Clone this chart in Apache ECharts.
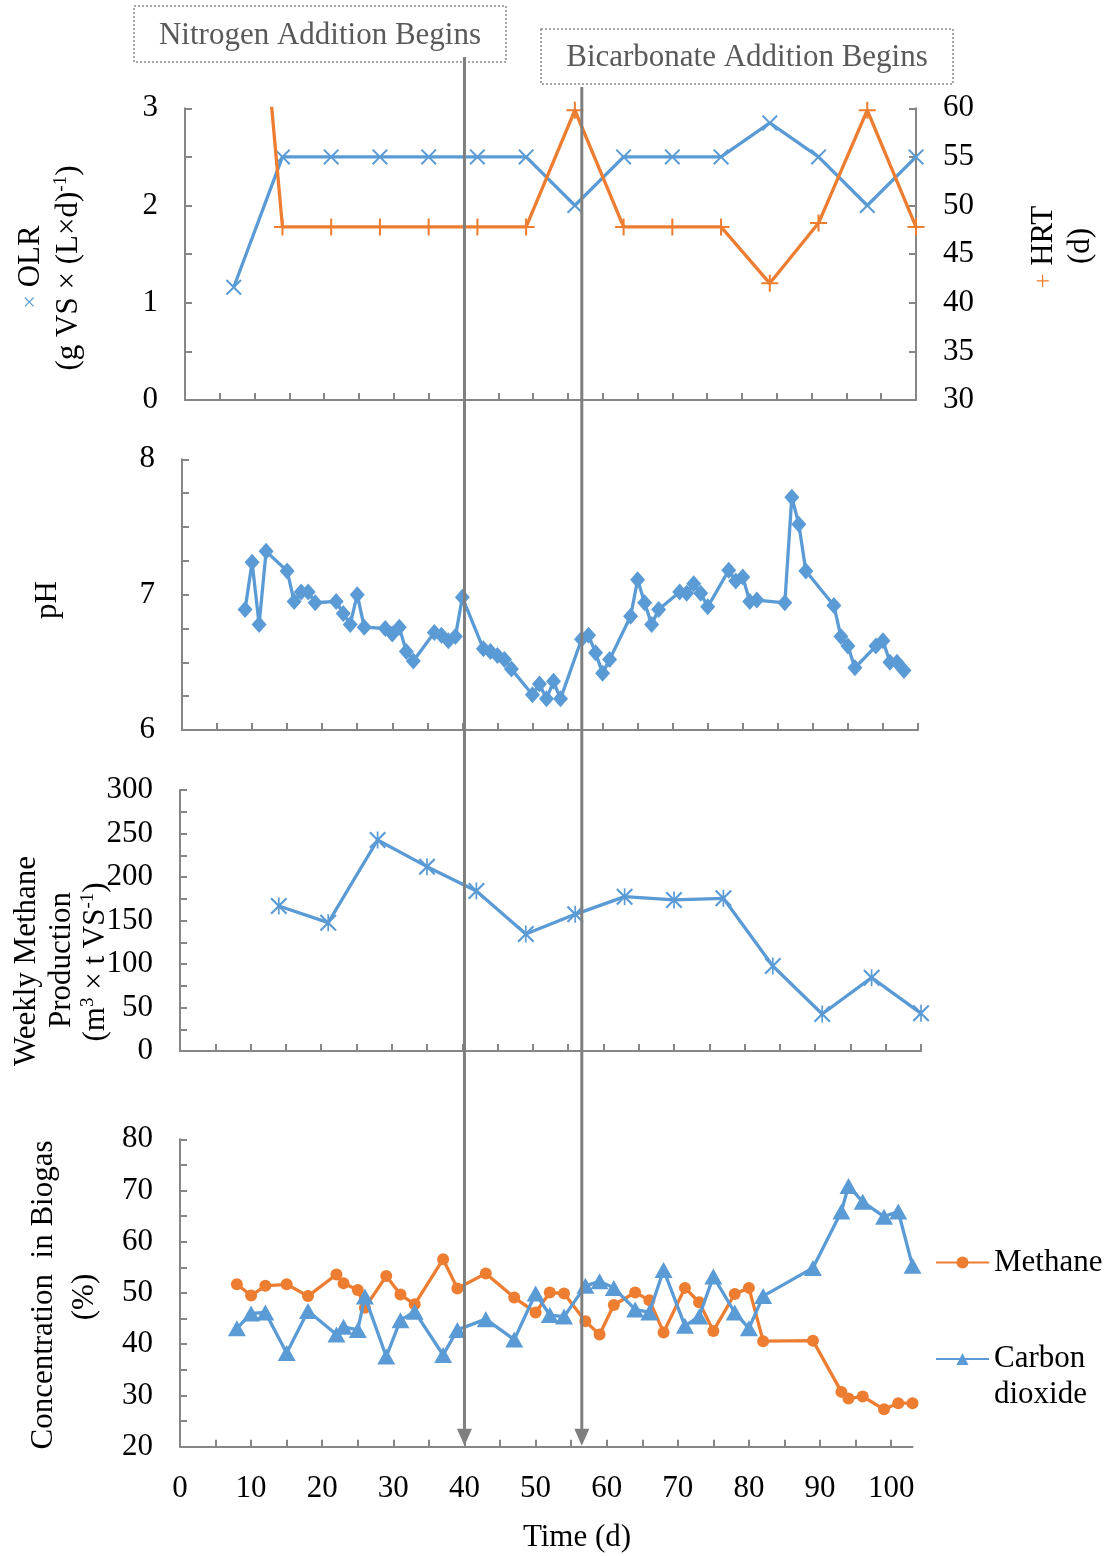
<!DOCTYPE html>
<html>
<head>
<meta charset="utf-8">
<title>Reactor performance over time</title>
<script src="https://cdn.jsdelivr.net/npm/echarts@6/dist/echarts.min.js"></script>
<style>
  html, body { margin: 0; padding: 0; background: #ffffff; }
  #chart { width: 1118px; height: 1556px; }
</style>
</head>
<body>
<div id="chart"></div>
<script>
// ---- Data -------------------------------------------------------------
// Weekly loading conditions
const loadDays = [7, 14, 21, 28, 35, 42, 49, 56, 63, 70, 77, 84, 91, 98, 105];
const olr = [1.16, 2.5, 2.5, 2.5, 2.5, 2.5, 2.5, 2.0, 2.5, 2.5, 2.5, 2.85, 2.5, 2.0, 2.5];
const hrt = [103.4, 47.8, 47.8, 47.8, 47.8, 47.8, 47.8, 59.8, 47.8, 47.8, 47.8, 42.0, 48.2, 59.8, 47.8];

// Digester pH
const phDays = [9, 10, 11, 12, 15, 16, 17, 18, 19, 22, 23, 24, 25, 26, 29, 30, 31, 32, 33,
  36, 37, 38, 39, 40, 43, 44, 45, 46, 47, 50, 51, 52, 53, 54, 57, 58, 59, 60, 61,
  64, 65, 66, 67, 68, 71, 72, 73, 74, 75, 78, 79, 80, 81, 82, 86, 87, 88, 89,
  93, 94, 95, 96, 99, 100, 101, 102, 103];
const ph = [6.89, 7.24, 6.78, 7.32, 7.175, 6.95, 7.02, 7.02, 6.94, 6.95, 6.86, 6.78, 7.0, 6.76,
  6.75, 6.71, 6.76, 6.58, 6.51, 6.72, 6.70, 6.66, 6.69, 6.98, 6.60, 6.58, 6.55, 6.52, 6.45,
  6.26, 6.34, 6.23, 6.36, 6.23, 6.67, 6.70, 6.57, 6.42, 6.52, 6.84, 7.11, 6.94, 6.78, 6.89,
  7.02, 7.01, 7.08, 7.01, 6.91, 7.18, 7.10, 7.13, 6.95, 6.96, 6.94, 7.72, 7.52, 7.175,
  6.92, 6.69, 6.62, 6.46, 6.62, 6.66, 6.50, 6.50, 6.44];

// Weekly methane production
const yieldDays = [14, 21, 28, 35, 42, 49, 56, 63, 70, 77, 84, 91, 98, 105];
const methaneYield = [166.7, 147.5, 242.5, 211.9, 183.9, 134.5, 157.1, 177.4, 173.6, 175.5, 97.7, 42.5, 84.3, 43.3];

// Biogas composition
const gasDays = [8, 10, 12, 15, 18, 22, 23, 25, 26, 29, 31, 33, 37, 39, 43, 47, 50, 52, 54,
  57, 59, 61, 64, 66, 68, 71, 73, 75, 78, 80, 82, 89, 93, 94, 96, 99, 101, 103];
const methanePct = [51.7, 49.5, 51.4, 51.7, 49.4, 53.6, 51.9, 50.6, 47.1, 53.3, 49.7, 47.8, 56.6,
  50.9, 53.8, 49.1, 46.2, 50.1, 49.9, 44.5, 41.9, 47.65, 50.1, 48.6, 42.3, 51.0, 48.2, 42.6,
  49.8, 51.0, 40.6, 40.7, 30.7, 29.4, 29.8, 27.3, 28.5, 28.5];
const co2Pct = [43.1, 46.0, 46.2, 38.3, 46.5, 41.9, 43.4, 42.8, 49.3, 37.6, 44.7, 46.35, 37.9,
  42.8, 44.9, 40.9, 49.9, 45.7, 45.4, 51.4, 52.3, 51.0, 46.8, 46.2, 54.5, 43.6, 45.4, 53.2,
  46.2, 43.1, 49.4, 54.9, 65.9, 70.9, 67.8, 64.9, 65.9, 55.3];

// Events
const eventDays = [40, 56.5];
const eventLabels = ['Nitrogen Addition Begins', 'Bicarbonate Addition Begins'];

// Tick labels
const olrTicks = [0, 1, 2, 3];
const hrtTicks = [30, 35, 40, 45, 50, 55, 60];
const phTicks = [6, 7, 8];
const yieldTicks = [0, 50, 100, 150, 200, 250, 300];
const gasTicks = [20, 30, 40, 50, 60, 70, 80];
const timeTicks = [0, 10, 20, 30, 40, 50, 60, 70, 80, 90, 100];
const timeMinorTicks = [0, 5, 10, 15, 20, 25, 30, 35, 40, 45, 50, 55, 60, 65, 70, 75, 80, 85, 90, 95, 100];

// ---- Styling ----------------------------------------------------------
const FONT = "'Liberation Serif', 'Times New Roman', Times, serif";
const FS = 31;
const BLUE = '#5B9BD5';
const ORANGE = '#ED7D31';
const AXIS = '#868686';
const MARK = '#7F7F7F';
const LW = 3.3;

// thin marker shapes (filled outlines)
const X_PATH = 'path://M0 9 L9 0 L50 41 L91 0 L100 9 L59 50 L100 91 L91 100 L50 59 L9 100 L0 91 L41 50 Z';
const PLUS_PATH = 'path://M44 0 L56 0 L56 44 L100 44 L100 56 L56 56 L56 100 L44 100 L44 56 L0 56 L0 44 L44 44 Z';
const STAR_PATH = 'path://M0 9 L9 0 L50 41 L91 0 L100 9 L59 50 L100 91 L91 100 L50 59 L9 100 L0 91 L41 50 Z M45 0 L55 0 L55 100 L45 100 Z';

const pairs = (xs, ys) => xs.map((x, i) => [x, ys[i]]);
const only = list => v => (list.some(t => Math.abs(t - v) < 1e-9) ? String(v) : '');

const axisLine = { show: true, onZero: false, lineStyle: { color: AXIS, width: 2 } };
const axisTick = { show: true, inside: true, length: 7, lineStyle: { color: AXIS, width: 2 } };
const labelBase = { fontFamily: FONT, fontSize: FS, color: '#000000' };

function hiddenTimeAxis(gridIndex) {
  return {
    type: 'value', gridIndex, min: 0, max: 105, interval: 5,
    axisLine, axisTick, axisLabel: { show: false }, splitLine: { show: false }
  };
}

function valueAxis(gridIndex, min, max, interval, ticks, extra) {
  return Object.assign({
    type: 'value', gridIndex, min, max, interval,
    axisLine: { show: true, lineStyle: { color: AXIS, width: 2 } },
    axisTick,
    axisLabel: Object.assign({}, labelBase, { margin: 27, padding: [5, 0, 0, 0], formatter: only(ticks) }),
    splitLine: { show: false }
  }, extra || {});
}

function lineSeries(name, xi, yi, data, symbol, size, color, z) {
  return {
    name, type: 'line', xAxisIndex: xi, yAxisIndex: yi, data,
    symbol, symbolSize: size, showSymbol: true, clip: true, z: z || 2,
    lineStyle: { color, width: LW },
    itemStyle: { color, borderWidth: 0 },
    emphasis: { disabled: true }, silent: true, animation: false
  };
}

const legendText = { fontFamily: FONT, fontSize: FS, color: '#000', lineHeight: 35 };

const option = {
  animation: false,
  backgroundColor: '#ffffff',
  textStyle: { fontFamily: FONT },
  grid: [
    { left: 185, top: 108.3, width: 731, height: 291.7, outerBoundsMode: 'none' },
    { left: 182, top: 459.3, width: 736, height: 270.7, outerBoundsMode: 'none' },
    { left: 180, top: 790, width: 741, height: 261, outerBoundsMode: 'none' },
    { left: 180, top: 1139.3, width: 732.5, height: 307.4, outerBoundsMode: 'none' }
  ],
  xAxis: [
    hiddenTimeAxis(0),
    hiddenTimeAxis(1),
    hiddenTimeAxis(2),
    {
      type: 'value', gridIndex: 3, min: 0, max: 103, interval: 5,
      axisLine,
      axisTick: Object.assign({}, axisTick, { customValues: timeMinorTicks }),
      axisLabel: Object.assign({}, labelBase, { margin: 27, customValues: timeTicks, formatter: only(timeTicks) }),
      splitLine: { show: false }
    }
  ],
  yAxis: [
    valueAxis(0, 0, 3, 0.5, olrTicks, { position: 'left' }),
    valueAxis(0, 30, 60, 5, hrtTicks, { position: 'right' }),
    valueAxis(1, 6, 8, 0.25, phTicks),
    valueAxis(2, 0, 300, 25, yieldTicks),
    valueAxis(3, 20, 80, 5, gasTicks)
  ],
  legend: [
    {
      data: ['Methane'], left: 935, top: 1245, padding: 0,
      itemWidth: 53, itemHeight: 15, selectedMode: false,
      textStyle: legendText
    },
    {
      // blank first line keeps the key level with "Carbon"
      data: ['Carbon dioxide'], left: 935, top: 1305, padding: 0,
      itemWidth: 53, itemHeight: 15, selectedMode: false,
      formatter: () => ' \nCarbon\ndioxide',
      textStyle: Object.assign({}, legendText, { lineHeight: 36 })
    }
  ],
  series: [
    lineSeries('OLR', 0, 0, pairs(loadDays, olr), X_PATH, 16, BLUE, 2),
    lineSeries('HRT', 0, 1, pairs(loadDays, hrt), PLUS_PATH, 17, ORANGE, 3),
    lineSeries('pH', 1, 2, pairs(phDays, ph), 'diamond', [15, 17], BLUE, 2),
    lineSeries('Weekly Methane Production', 2, 3, pairs(yieldDays, methaneYield), STAR_PATH, 17, BLUE, 2),
    lineSeries('Methane', 3, 4, pairs(gasDays, methanePct), 'circle', 12, ORANGE, 2),
    lineSeries('Carbon dioxide', 3, 4, pairs(gasDays, co2Pct), 'triangle', [18, 16], BLUE, 3)
  ]
};

const chart = echarts.init(document.getElementById('chart'), null, { renderer: 'canvas' });
chart.setOption(option);

// ---- Axis titles and annotations -------------------------------------
const ROT = Math.PI / 2;
function vText(x, y, text, rich) {
  return {
    type: 'text', x, y, rotation: ROT, z: 50, silent: true,
    style: {
      text, fontFamily: FONT, fontSize: FS, fill: '#000', align: 'center', verticalAlign: 'middle',
      rich: rich || {}
    }
  };
}
const supRich = { s: { fontFamily: FONT, fontSize: 19, fill: '#000', verticalAlign: 'top', lineHeight: 34 } };

const titles = [
  vText(31, 267, '{x|×} OLR', { x: { fontFamily: FONT, fontSize: 24, fill: BLUE } }),
  vText(69, 268, '(g VS × (L×d){s|-1})', supRich),
  vText(1044, 247, '{p|+} HRT', { p: { fontFamily: FONT, fontSize: 26, fill: ORANGE } }),
  vText(1081, 246, '(d)'),
  vText(48, 600, 'pH'),
  vText(27, 961, 'Weekly Methane'),
  vText(62, 960, 'Production'),
  vText(96, 962, '(m{s|3} × t VS{s|-1})', supRich),
  vText(44, 1295, 'Concentration  in Biogas'),
  vText(85, 1297, '(%)'),
  {
    type: 'text', x: 577, y: 1538, z: 50, silent: true,
    style: { text: 'Time (d)', fontFamily: FONT, fontSize: FS, fill: '#000', align: 'center', verticalAlign: 'middle' }
  }
];

const boxes = [
  { x: 134, y: 6, w: 372, h: 56, ty: 36 },
  { x: 541, y: 29, w: 412, h: 55, ty: 58 }
];
const boxGraphics = boxes.flatMap((b, i) => [
  {
    type: 'rect', z: 90, silent: true,
    shape: { x: b.x, y: b.y, width: b.w, height: b.h },
    style: { fill: '#ffffff', stroke: '#8C8C8C', lineWidth: 1.5, lineDash: [2, 2] }
  },
  {
    type: 'text', z: 91, silent: true, x: b.x + b.w / 2, y: b.ty,
    style: { text: eventLabels[i], fontFamily: FONT, fontSize: FS, fill: '#595959', align: 'center', verticalAlign: 'middle' }
  }
]);

// event markers run from each label box down to the time axis of the bottom panel
const axisY = chart.convertToPixel({ yAxisIndex: 4 }, 20);
const lineTops = [57, 87];
const eventGraphics = eventDays.flatMap((d, i) => {
  const x = chart.convertToPixel({ xAxisIndex: 3 }, d);
  return [
    {
      type: 'line', z: 100, silent: true,
      shape: { x1: x, y1: lineTops[i], x2: x, y2: axisY - 16 },
      style: { stroke: MARK, lineWidth: 3 }
    },
    {
      type: 'polygon', z: 100, silent: true,
      shape: { points: [[x - 7.5, axisY - 18], [x + 7.5, axisY - 18], [x, axisY - 1]] },
      style: { fill: MARK }
    }
  ];
});

chart.setOption({ graphic: { elements: [...titles, ...boxGraphics, ...eventGraphics] } });
</script>
</body>
</html>
